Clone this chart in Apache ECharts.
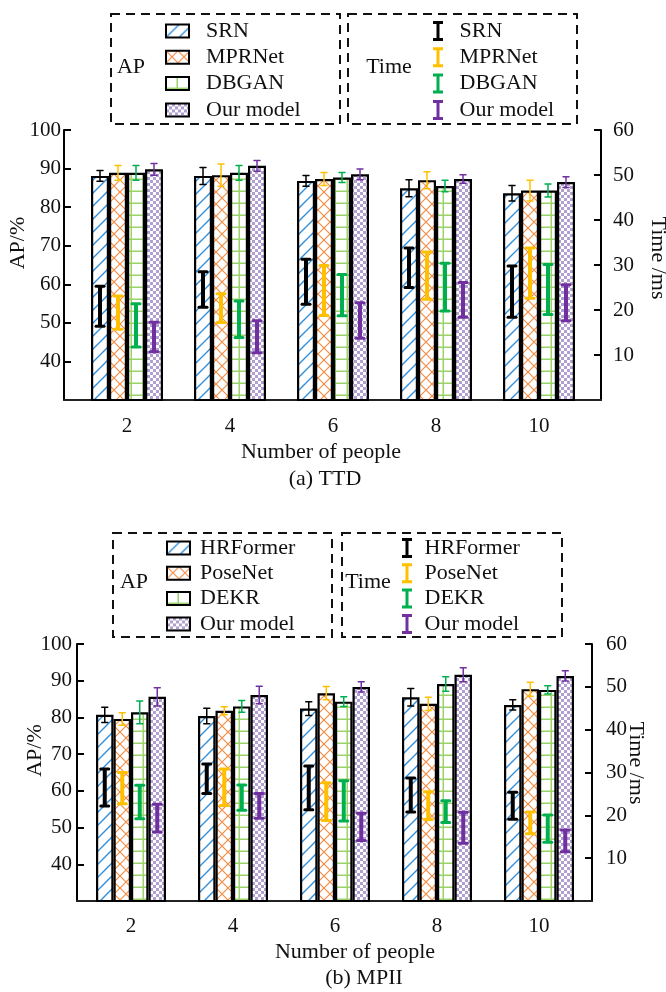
<!DOCTYPE html>
<html>
<head>
<meta charset="utf-8">
<script src="https://cdn.jsdelivr.net/npm/echarts@6/dist/echarts.min.js"></script>
<style>
  html, body { margin: 0; padding: 0; background: #fff; }
  #chart { width: 666px; height: 992px; }
</style>
</head>
<body>
<div id="chart"></div>
<script>
const categories = ['2', '4', '6', '8', '10']
const ttdMethods = ['SRN', 'MPRNet', 'DBGAN', 'Our model']
const mpiiMethods = ['HRFormer', 'PoseNet', 'DEKR', 'Our model']

// (a) TTD, AP in %, one row per method
const ttdAp = [
  [88.1, 88.1, 86.8, 84.9, 83.6],
  [88.9, 88.3, 87.3, 87.0, 84.3],
  [88.9, 88.9, 87.7, 85.5, 84.3],
  [89.8, 90.7, 88.5, 87.3, 86.5],
]
const ttdApErr = [
  [1.4, 2.2, 1.4, 2.2, 2.0],
  [1.9, 2.9, 1.7, 2.2, 2.7],
  [1.9, 1.9, 1.3, 1.5, 1.7],
  [1.5, 1.4, 1.4, 1.1, 1.4],
]
// (a) TTD, time range in ms
const ttdTimeLow = [
  [16.4, 20.6, 21.3, 25.0, 18.4],
  [15.7, 17.2, 18.8, 22.4, 22.6],
  [11.8, 13.9, 18.7, 19.8, 19.0],
  [10.7, 10.5, 13.7, 18.4, 17.6],
]
const ttdTimeHigh = [
  [25.3, 28.5, 31.3, 33.8, 29.8],
  [23.1, 23.6, 29.9, 32.9, 33.8],
  [21.4, 22.0, 27.9, 30.4, 30.1],
  [17.3, 17.6, 21.6, 26.1, 25.6],
]

// (b) MPII
const mpiiAp = [
  [80.7, 80.4, 82.4, 85.5, 83.4],
  [79.6, 81.8, 86.6, 83.7, 87.7],
  [81.4, 83.0, 84.3, 89.1, 87.5],
  [85.6, 86.1, 88.3, 91.6, 91.3],
]
const mpiiApErr = [
  [2.1, 2.1, 1.9, 2.4, 1.4],
  [1.7, 1.1, 1.8, 1.8, 1.9],
  [3.1, 1.6, 1.3, 2.0, 1.1],
  [2.5, 2.4, 1.4, 1.9, 1.4],
]
const mpiiTimeLow = [
  [22.2, 25.1, 21.3, 20.8, 19.1],
  [22.7, 22.3, 18.8, 19.0, 15.7],
  [19.2, 21.2, 18.7, 18.3, 13.7],
  [16.1, 19.3, 14.1, 13.5, 11.5],
]
const mpiiTimeHigh = [
  [30.8, 32.0, 31.5, 28.7, 25.4],
  [30.0, 30.8, 27.6, 25.5, 20.8],
  [27.0, 27.1, 28.1, 23.4, 20.1],
  [22.6, 25.1, 20.5, 20.7, 16.6],
]

const FONT = 'Liberation Serif'
const errColors = ['#000000', '#ffc000', '#00b050', '#7030a0']
const timeIcon = 'path://M0,0H10V3H6.5V17H10V20H0V17H3.5V3H0Z'

// fill patterns for the bars
const makeTile = (w, h, draw) => {
  const c = document.createElement('canvas')
  c.width = w
  c.height = h
  const ctx = c.getContext('2d')
  ctx.fillStyle = '#fff'
  ctx.fillRect(0, 0, w, h)
  draw(ctx, w, h)
  return { image: c, repeat: 'repeat' }
}
const patterns = [
  makeTile(13, 13, (ctx) => {
    ctx.strokeStyle = '#2f8fdc'
    ctx.lineWidth = 1.4
    ctx.beginPath()
    ctx.moveTo(-1, 14); ctx.lineTo(14, -1)
    ctx.moveTo(-1, 1); ctx.lineTo(1, -1)
    ctx.moveTo(12, 14); ctx.lineTo(14, 12)
    ctx.stroke()
  }),
  makeTile(12, 12, (ctx) => {
    ctx.strokeStyle = '#f58c45'
    ctx.lineWidth = 1.2
    ctx.beginPath()
    ctx.moveTo(0, 0); ctx.lineTo(12, 12)
    ctx.moveTo(0, 12); ctx.lineTo(12, 0)
    ctx.stroke()
  }),
  makeTile(12, 12, (ctx) => {
    ctx.fillStyle = '#9ad36a'
    ctx.fillRect(0, 10.5, 12, 1.8)
    ctx.fillRect(10.5, 0, 1.8, 12)
  }),
  makeTile(6, 6, (ctx) => {
    ctx.fillStyle = '#b09fd0'
    ctx.fillRect(0, 0, 3, 3)
    ctx.fillRect(3, 3, 3, 3)
  }),
]

const errorBar = (offset, color, lineW, capW, capLW) => (params, api) => {
  const lo = api.coord([api.value(0), api.value(1)])
  const hi = api.coord([api.value(0), api.value(2)])
  const x = lo[0] + offset
  const cap = { stroke: color, lineWidth: capLW, lineCap: 'round' }
  return {
    type: 'group',
    children: [
      { type: 'line', shape: { x1: x, y1: lo[1], x2: x, y2: hi[1] }, style: { stroke: color, lineWidth: lineW } },
      { type: 'line', shape: { x1: x - capW / 2, y1: lo[1], x2: x + capW / 2, y2: lo[1] }, style: cap },
      { type: 'line', shape: { x1: x - capW / 2, y1: hi[1], x2: x + capW / 2, y2: hi[1] }, style: cap },
    ],
  }
}

const buildSeries = (p, methods, ap, apErr, tLow, tHigh, barWidth) => {
  const xi = p * 2
  const yl = p * 3
  const yr = p * 3 + 1
  const out = []
  methods.forEach((m, i) => {
    const offset = (i - 1.5) * barWidth
    out.push({
      type: 'bar',
      name: `a${p}:${m}`,
      xAxisIndex: xi,
      yAxisIndex: yl,
      barWidth: barWidth,
      barGap: '0%',
      itemStyle: { color: patterns[i], borderColor: '#000', borderWidth: 2.2 },
      data: ap[i],
      z: 2,
    })
    out.push({
      type: 'custom',
      name: `e${p}:${m}`,
      xAxisIndex: xi,
      yAxisIndex: yl,
      renderItem: errorBar(offset, errColors[i], 1.5, 6, 1.5),
      encode: { x: 0, y: [1, 2] },
      data: ap[i].map((v, j) => [j, v - apErr[i][j], v + apErr[i][j]]),
      z: 4,
    })
    out.push({
      type: 'custom',
      name: `t${p}:${m}`,
      xAxisIndex: xi,
      yAxisIndex: yr,
      itemStyle: { color: errColors[i] },
      renderItem: errorBar(offset, errColors[i], 4, 8, 3),
      encode: { x: 0, y: [1, 2] },
      data: tLow[i].map((v, j) => [j, v, tHigh[i][j]]),
      z: 5,
    })
  })
  return out
}

const labelStyle = { fontFamily: FONT, fontSize: 21, color: '#111' }
const nameStyle = { fontFamily: FONT, fontSize: 22, color: '#111' }
const lineStyle = { color: '#000', width: 2 }

const catAxis = (grid, margin, namePad, nameGap) => ({
  type: 'category',
  gridIndex: grid,
  data: categories,
  name: 'Number of people',
  nameLocation: 'middle',
  nameGap: nameGap,
  nameMoveOverlap: false,
  nameTextStyle: { ...nameStyle, padding: namePad },
  axisLine: { show: false },
  axisTick: { show: false },
  axisLabel: { ...labelStyle, margin: margin },
})
const frameX = (grid) => ({
  type: 'value',
  gridIndex: grid,
  min: 0,
  max: 1,
  axisLine: { show: true, onZero: false, lineStyle: { color: '#222', width: 2 } },
  axisTick: { show: false },
  axisLabel: { show: false },
  splitLine: { show: false },
})
const apAxis = (grid, offset, margin, gap, pad) => ({
  type: 'value',
  gridIndex: grid,
  position: 'left',
  offset: offset,
  min: 30,
  max: 100,
  interval: 10,
  name: 'AP/%',
  nameLocation: 'middle',
  nameGap: gap,
  nameMoveOverlap: false,
  nameTextStyle: { ...nameStyle, padding: pad },
  axisLine: { show: true, lineStyle },
  axisTick: { show: true, inside: true, length: 7, lineStyle },
  axisLabel: { ...labelStyle, margin: margin, showMinLabel: false },
  splitLine: { show: false },
})
const timeAxis = (grid, offset, margin, gap, pad) => ({
  type: 'value',
  gridIndex: grid,
  position: 'right',
  offset: offset,
  min: 0,
  max: 60,
  interval: 10,
  name: 'Time /ms',
  nameLocation: 'middle',
  nameRotate: -90,
  nameGap: gap,
  nameMoveOverlap: false,
  nameTextStyle: { ...nameStyle, padding: pad },
  axisLine: { show: true, lineStyle },
  axisTick: { show: true, inside: true, length: 7, lineStyle },
  axisLabel: { ...labelStyle, margin: margin, showMinLabel: false },
  splitLine: { show: false },
})
const hiddenY = (grid) => ({ type: 'value', gridIndex: grid, show: false })

const legendBase = (names, prefix, left, top, gap, pad, time) => ({
  orient: 'vertical',
  left: left,
  top: top,
  itemGap: gap,
  itemWidth: time ? 11 : 23,
  itemHeight: time ? 20 : 13,
  selectedMode: false,
  icon: time ? timeIcon : 'rect',
  data: names.map((n) => `${prefix}:${n}`),
  formatter: (name) => name.slice(name.indexOf(':') + 1),
  textStyle: { fontFamily: FONT, fontSize: 22, lineHeight: 22, color: '#111', padding: [0, 0, 0, pad] },
  itemStyle: time ? { borderWidth: 0 } : { borderColor: '#000', borderWidth: 2 },
})

const dashedBox = (x, y, w, h) => ({
  type: 'rect',
  shape: { x, y, width: w, height: h },
  style: { fill: 'none', stroke: '#111', lineWidth: 2, lineDash: [9, 6] },
})
const label = (text, x, y) => ({
  type: 'text',
  x,
  y,
  style: { text, fontFamily: FONT, fontSize: 22, fill: '#111', align: 'center', verticalAlign: 'middle' },
})

const chart = echarts.init(document.getElementById('chart'))
chart.setOption({
  animation: false,
  backgroundColor: '#fff',
  grid: [
    { left: 75.5, right: 75.5, top: 130, bottom: 592, outerBoundsMode: 'none' },
    { left: 64, right: 65, top: 130, bottom: 592, outerBoundsMode: 'none' },
    { left: 80, right: 76, top: 644, bottom: 91, outerBoundsMode: 'none' },
    { left: 77, right: 74, top: 644, bottom: 91, outerBoundsMode: 'none' },
  ],
  xAxis: [
    catAxis(0, 16, [0, 24, 0, 0], 41),
    frameX(1),
    catAxis(2, 15, [0, 0, 0, 40], 40),
    frameX(3),
  ],
  yAxis: [
    apAxis(0, 11.5, 3, 35, [0, 0, 0, 44]),
    timeAxis(0, 10.5, 12, 46, [0, 14, 0, 0]),
    hiddenY(1),
    apAxis(2, 3, 5, 31, [0, 0, 0, 44]),
    timeAxis(2, 2, 14, 33, [0, 19, 0, 0]),
    hiddenY(3),
  ],
  legend: [
    legendBase(ttdMethods, 'a0', 160, 15, 4.3, 12, false),
    legendBase(ttdMethods, 't0', 428, 15, 4.3, 11, true),
    legendBase(mpiiMethods, 'a1', 161, 532, 3.3, 5, false),
    legendBase(mpiiMethods, 't1', 397, 532, 3.3, 7, true),
  ],
  graphic: [
    dashedBox(111, 14, 229, 110),
    dashedBox(348, 14, 229, 110),
    label('AP', 131, 67),
    label('Time', 389, 67),
    dashedBox(113, 533, 219, 104),
    dashedBox(342, 533, 220, 104),
    label('AP', 134, 582),
    label('Time', 368, 582),
    label('(a) TTD', 325, 479),
    label('(b) MPII', 364, 978),
  ],
  series: [
    ...buildSeries(0, ttdMethods, ttdAp, ttdApErr, ttdTimeLow, ttdTimeHigh, 18),
    ...buildSeries(1, mpiiMethods, mpiiAp, mpiiApErr, mpiiTimeLow, mpiiTimeHigh, 17.5),
  ],
})
</script>
</body>
</html>
